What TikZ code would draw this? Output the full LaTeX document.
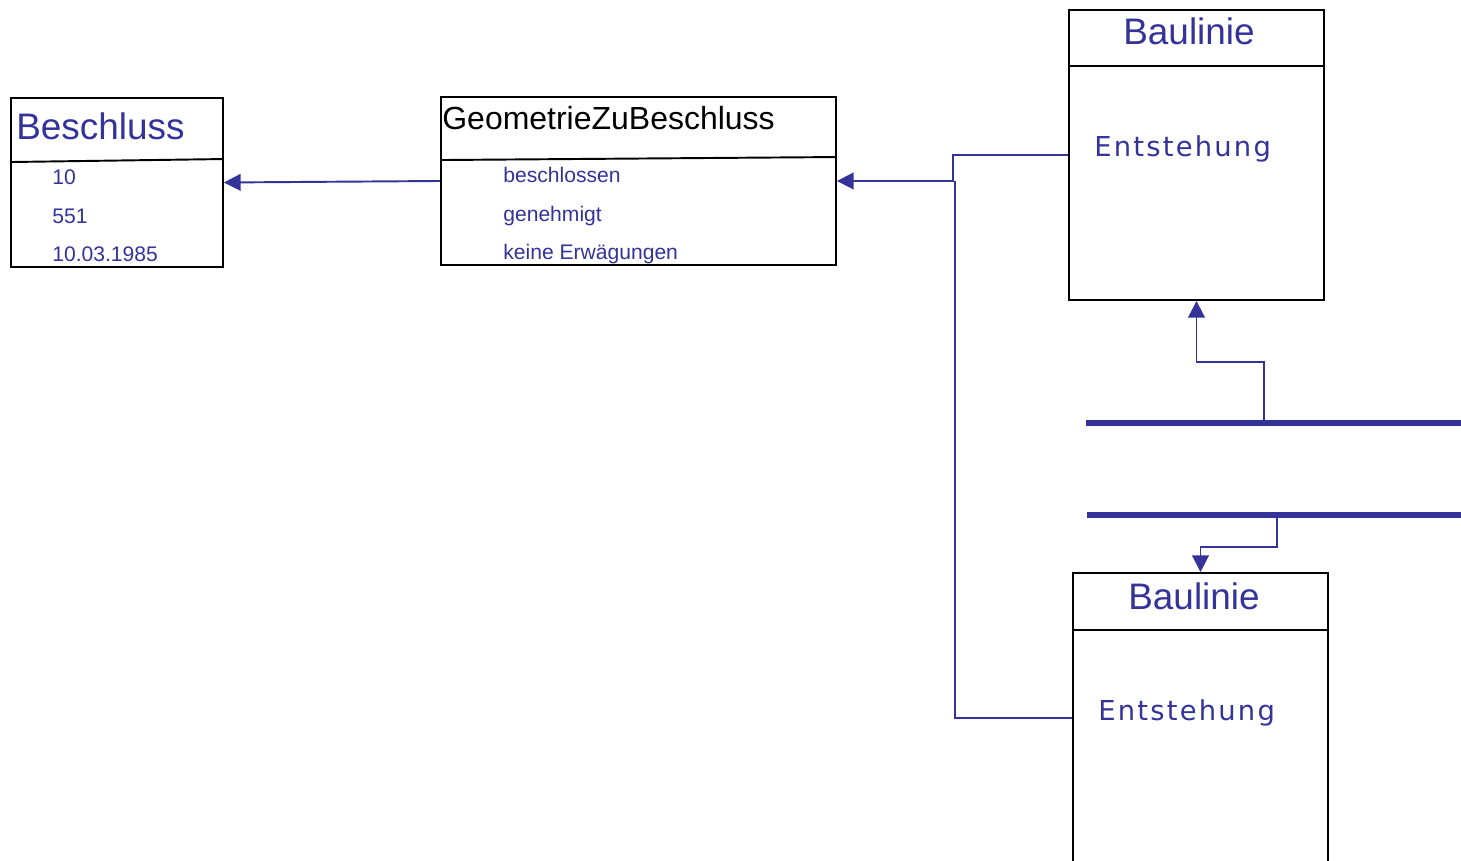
\documentclass[tikz,border=0pt]{standalone}
\usepackage{fontspec}
\setmainfont{Liberation Sans}
\newfontfamily\widefont[LetterSpace=8]{DejaVu Sans}
\usetikzlibrary{positioning,arrows.meta}
\definecolor{umlblue}{RGB}{51,51,153}

\begin{document}
\begin{tikzpicture} [
                x=0.02cm, y=-0.02cm,
                classnode/.style={
                    rectangle,
                    draw,
                    line width=1.1pt,
                    inner sep=0pt
                },
                sep/.style={
                    line width=1.1pt
                },
                title/.style={
                    anchor=base west,
                    inner sep=0pt,
                    text=umlblue,
                    font=\fontsize{21}{25}\selectfont
                },
                attr/.style={
                    inner sep=0pt,
                    text height=9pt,
                    text depth=3pt,
                    text=umlblue,
                    font=\fontsize{12}{14}\selectfont
                },
                role/.style={
                    anchor=base west,
                    inner sep=0pt,
                    text=umlblue,
                    font=\widefont\fontsize{15.6}{19}\selectfont
                },
                conn/.style={
                    draw=umlblue,
                    line width=1.1pt
                },
                arr/.style={
                    conn,
                    -{Triangle[length=9.5pt,width=9.5pt]}
                },
                bar/.style={
                    draw=umlblue,
                    line width=3.2pt
                }
            ]
                \useasboundingbox (0,0) rectangle (1461,861);

                \node[classnode, minimum width=4.24cm, minimum height=3.38cm] (besch) at (117,182.5) {};
                \node[classnode, minimum width=7.9cm,  minimum height=3.36cm] (gzb)   at (638.5,181) {};
                \node[classnode, minimum width=5.1cm,  minimum height=5.8cm]  (bl1)   at (1196.5,155) {};
                \node[classnode, minimum width=5.1cm,  minimum height=5.8cm]  (bl2)   at (1200.5,718) {};

                \draw[sep] ([yshift=-1.3cm]besch.north west) -- ([yshift=-1.24cm]besch.north east);
                \draw[sep] ([yshift=-1.28cm]gzb.north west)  -- ([yshift=-1.22cm]gzb.north east);
                \draw[sep] ([yshift=-1.14cm]bl1.north west)  -- ([yshift=-1.14cm]bl1.north east);
                \draw[sep] ([yshift=-1.16cm]bl2.north west)  -- ([yshift=-1.16cm]bl2.north east);

                \node[title] (beschtitle) at (16,140) {Beschluss};
                \node[title, text=black, font=\fontsize{18.2}{22}\selectfont] (gzbtitle) at (442,130) {GeometrieZuBeschluss};
                \node[title] (bl1title) at (1123,45)  {Baulinie};
                \node[title] (bl2title) at (1128,609) {Baulinie};

                \node[attr, anchor=base west] (b10) at (52,185) {10};
                \node[attr] (b551)  [below=9.3pt of b10.south west, anchor=north west]  {551};
                \node[attr] (bdate) [below=9.3pt of b551.south west, anchor=north west] {10.03.1985};

                \node[attr, anchor=base west] (gbeschl) at (503,183) {beschlossen};
                \node[attr] (ggenehm) [below=9.3pt of gbeschl.south west, anchor=north west] {genehmigt};
                \node[attr] (gkeine)  [below=9.3pt of ggenehm.south west, anchor=north west] {keine Erwägungen};

                \node[role] (bl1role) at (1094,157) {Entstehung};
                \node[role] (bl2role) at (1098,720) {Entstehung};

                \coordinate (knota) at (953,181);
                \coordinate (knotb) at (955,181);
                \coordinate (bar1w) at (1086,423);
                \coordinate (bar1e) at (1461,423);
                \coordinate (bar2w) at (1087,515);
                \coordinate (bar2e) at (1461,515);
                \coordinate (tap1)  at (1264,423);
                \coordinate (tap2)  at (1277,515);

                \draw[bar] (bar1w) -- (bar1e);
                \draw[bar] (bar2w) -- (bar2e);

                \draw[arr] (gzb.west) -- (besch.east);
                \draw[arr] (bl1.west) -| (knota) -- (gzb.east);
                \draw[conn] (bl2.west) -| (knotb);
                \draw[arr] (tap1) -- ++(0,-61) -| (bl1.south);
                \draw[arr] (tap2) -- ++(0,32) -| (bl2.north);
            \end{tikzpicture}
\end{document}
